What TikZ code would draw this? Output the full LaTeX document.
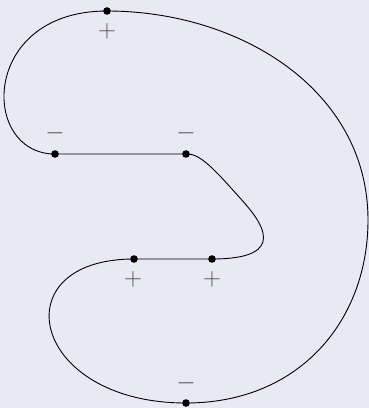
\documentclass[tikz,border=0pt]{standalone}
\definecolor{bg}{RGB}{233,233,243}
\definecolor{lbl}{RGB}{80,80,80}
\tikzset{
  curve/.style={line width=0.9pt, black},
  dotmark/.style={fill=black},
  sign/.style={text=lbl, inner sep=0pt, font=\fontsize{25}{25}\selectfont}
}
\begin{document}
\begin{tikzpicture}[x=1pt,y=-1pt]
\fill[bg] (0,0) rectangle (369,408);
\useasboundingbox (0,0) rectangle (369,408);
% points
\coordinate (T) at (107,11);
\coordinate (L) at (55,154);
\coordinate (M) at (186,154);
\coordinate (K) at (240,198);
\coordinate (P) at (212,259);
\coordinate (Q) at (134,259);
\coordinate (B) at (186,403);
\coordinate (R) at (368,220);
% curve
\draw[curve] (T) .. controls (-20,11) and (-20,154) .. (L) -- (M)
  .. controls (200,153) and (215,170) .. (K)
  .. controls (262,222) and (290,259) .. (P) -- (Q)
  .. controls (0,259) and (30,403) .. (B)
  .. controls (300,403) and (368,320) .. (R)
  .. controls (368,90) and (240,11) .. (T);
% dots
\foreach \p in {T,L,M,P,Q,B} \fill[dotmark] (\p) circle (3.8pt);
% labels
\node[sign] (sT) at (107,31) {$+$};
\node[sign] (sL) at (55,133) {$-$};
\node[sign] (sM) at (186,133) {$-$};
\node[sign] (sQ) at (133,279) {$+$};
\node[sign] (sP) at (212,279) {$+$};
\node[sign] (sB) at (186,383) {$-$};
\end{tikzpicture}
\end{document}
